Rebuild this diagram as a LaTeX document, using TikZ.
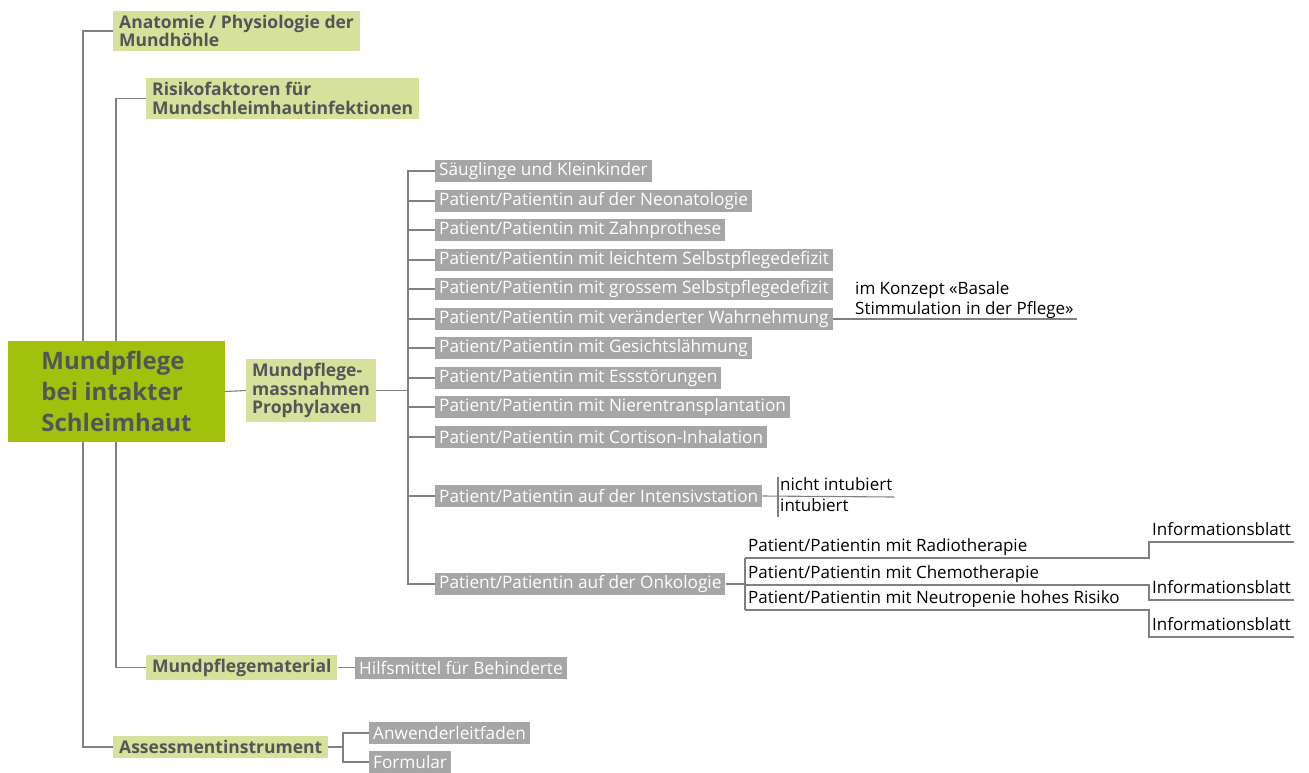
\documentclass[tikz,border=0pt]{standalone}
\usepackage{fontspec}
\setmainfont{Open Sans}
\definecolor{leaf}{RGB}{162,193,12}
\definecolor{pale}{RGB}{214,226,155}
\definecolor{stone}{RGB}{166,166,166}
\definecolor{ink}{RGB}{84,85,89}
\definecolor{wire}{RGB}{128,128,128}

\begin{document}
\begin{tikzpicture}[x=1pt, y=-1pt]
\tikzset{%
	root/.style = {fill=leaf, text=ink, font=\fontsize{24}{31}\selectfont\bfseries, minimum width=217pt, minimum height=101pt, align=left, inner sep=0pt},
	topic/.style = {fill=pale, text=ink, font=\fontsize{17.5}{18.5}\selectfont\bfseries, align=left, anchor=west, inner xsep=6pt, inner ysep=4pt},
	item/.style = {fill=stone, text=white, font=\fontsize{17.2}{19}\selectfont, anchor=west, inner xsep=4pt, inner ysep=0pt, minimum height=22pt},
	note/.style = {text=black, font=\fontsize{17}{20}\selectfont, anchor=south west, inner xsep=3pt, inner ysep=2pt, text height=12pt, text depth=4pt},
	con/.style = {draw=wire, line width=1.1pt}
}
\useasboundingbox (0,0) rectangle (1309,772);

% Root and main topics

\draw node at (116.5,391.5) [root] (main) {Mundpflege\\bei intakter\\Schleimhaut};
\draw node at (113,31) [topic] (anat) {Anatomie / Physiologie der\\Mundhöhle};
\draw node at (146,98.5) [topic] (risk) {Risikofaktoren für\\Mundschleimhautinfektionen};
\draw node at (246,390.5) [topic] (mass) {Mundpflege-\\massnahmen\\Prophylaxen};
\draw node at (146,667.5) [topic] (mat) {Mundpflegematerial};
\draw node at (113,747) [topic] (assess) {Assessmentinstrument};

% Prophylaxen

\draw node at (435,171) [item] (p1) {Säuglinge und Kleinkinder};
\draw node at (435,201) [item] (p2) {Patient/Patientin auf der Neonatologie};
\draw node at (435,230) [item] (p3) {Patient/Patientin mit Zahnprothese};
\draw node at (435,260) [item] (p4) {Patient/Patientin mit leichtem Selbstpflegedefizit};
\draw node at (435,289) [item] (p5) {Patient/Patientin mit grossem Selbstpflegedefizit};
\draw node at (435,319) [item] (p6) {Patient/Patientin mit veränderter Wahrnehmung};
\draw node at (435,348) [item] (p7) {Patient/Patientin mit Gesichtslähmung};
\draw node at (435,378) [item] (p8) {Patient/Patientin mit Essstörungen};
\draw node at (435,407) [item] (p9) {Patient/Patientin mit Nierentransplantation};
\draw node at (435,437) [item] (p10) {Patient/Patientin mit Cortison-Inhalation};
\draw node at (435,496) [item] (p11) {Patient/Patientin auf der Intensivstation};
\draw node at (435,584) [item] (p12) {Patient/Patientin auf der Onkologie};

\draw node at (852,319) [note, text height=, text depth=, align=left, font=\fontsize{17}{20}\selectfont, inner ysep=0.5pt] (konz)
{im Konzept «Basale\\Stimmulation in der Pflege»};
\draw node at (778,497) [note, inner xsep=2pt] (nicht) {nicht intubiert};
\draw node at (778,497) [note, inner xsep=2pt, anchor=north west] (intub) {intubiert};

\draw node at (745,558) [note] (radio) {Patient/Patientin mit Radiotherapie};
\draw node at (745,585) [note] (chemo) {Patient/Patientin mit Chemotherapie};
\draw node at (745,610) [note] (neutro) {Patient/Patientin mit Neutropenie hohes Risiko};
\draw node at (1149,542) [note] (info1) {Informationsblatt};
\draw node at (1149,600) [note] (info2) {Informationsblatt};
\draw node at (1149,637) [note] (info3) {Informationsblatt};

% Material and assessment

\draw node at (355,667.5) [item] (hilf) {Hilfsmittel für Behinderte};
\draw node at (369,733) [item] (anw) {Anwenderleitfaden};
\draw node at (369,762) [item] (form) {Formular};

\coordinate (t1) at (83,0);
\coordinate (t2) at (116,0);
\coordinate (t3) at (408,0);
\coordinate (t5) at (343,0);

\draw[con] (anat.west) -| (main.north -| t1);
\draw[con] (assess.west) -| (main.south -| t1);
\draw[con] (risk.west) -| (main.north -| t2);
\draw[con] (mat.west) -| (main.south -| t2);
\draw[con] (main.east) -- (mass.west);
\draw[con] (mass.east) -- (mass.east -| t3);
\draw[con] (p1.west) -| (mass.east -| t3);
\draw[con] (p2.west) -| (mass.east -| t3);
\draw[con] (p3.west) -| (mass.east -| t3);
\draw[con] (p4.west) -| (mass.east -| t3);
\draw[con] (p5.west) -| (mass.east -| t3);
\draw[con] (p6.west) -| (mass.east -| t3);
\draw[con] (p7.west) -| (mass.east -| t3);
\draw[con] (p8.west) -| (mass.east -| t3);
\draw[con] (p9.west) -| (mass.east -| t3);
\draw[con] (p10.west) -| (mass.east -| t3);
\draw[con] (p11.west) -| (mass.east -| t3);
\draw[con] (p12.west) -| (mass.east -| t3);

\draw[con] (p6.east) -- (p6.east -| konz.south east);
\draw[con] (p11.east) -- (nicht.south east);
\draw[con] (nicht.north west) -- (intub.south west);
\draw[con] (p12.east) -- (p12.east -| radio.south west);
\draw[con] (radio.south west) -- (neutro.south west);
\draw[con] (radio.south west) -| (info1.south west) -- (info1.south east);
\draw[con] (chemo.south west) -| (info2.south west) -- (info2.south east);
\draw[con] (neutro.south west) -| (info3.south west) -- (info3.south east);

\draw[con] (mat.east) -- (hilf.west);
\draw[con] (assess.east) -- (assess.east -| t5);
\draw[con] (anw.west) -| (assess.east -| t5);
\draw[con] (form.west) -| (assess.east -| t5);

\end{tikzpicture}
\end{document}
